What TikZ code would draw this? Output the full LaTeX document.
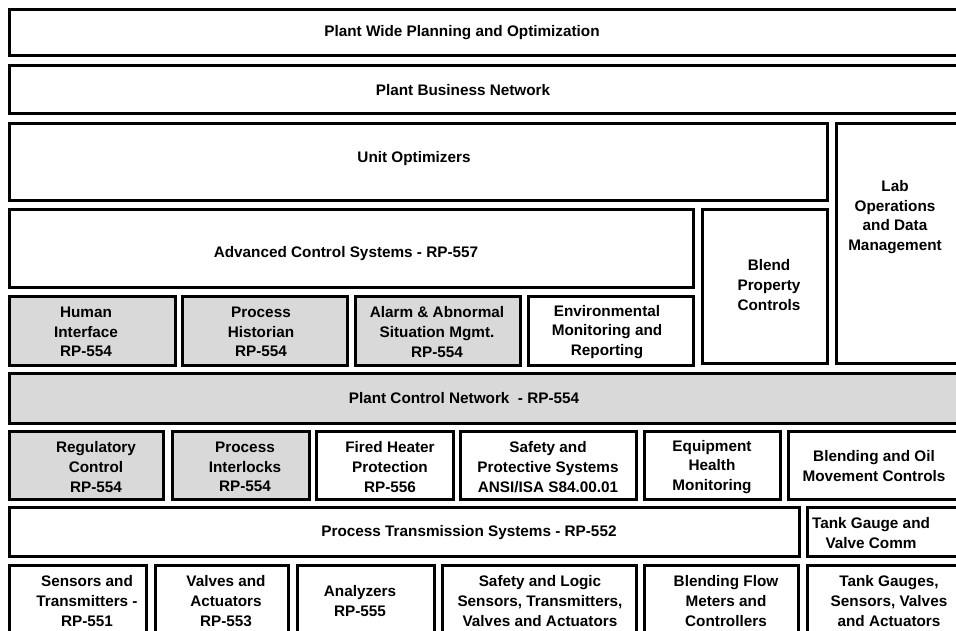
\documentclass[tikz,border=0pt]{standalone}
\usepackage{fontspec}
\setmainfont{Liberation Sans}
\definecolor{boxgray}{RGB}{217,217,217}
\begin{document}
\begin{tikzpicture}[x=1pt,y=-1pt,
  box/.style={draw=black,line width=3pt,fill=white},
  gbox/.style={draw=black,line width=3pt,fill=boxgray},
  lbl/.style={align=center,inner sep=0pt,font=\bfseries\fontsize{15.3}{19.7}\selectfont}]
\useasboundingbox (0,0) rectangle (956,631);
\clip (0,0) rectangle (956,631);
\fill[white] (0,0) rectangle (956,631);
% row 1-3
\draw[box] (9,10) rectangle (975,56);
\draw[box] (9,66) rectangle (975,114);
\draw[box] (9,124) rectangle (827,201);
\draw[box] (836,124) rectangle (975,363);
% row 4
\draw[box] (9,210) rectangle (693,287);
\draw[box] (702,210) rectangle (827,363);
% row 5
\draw[gbox] (9,296) rectangle (175,365);
\draw[gbox] (182,296) rectangle (347,365);
\draw[gbox] (355,296) rectangle (520,365);
\draw[box] (528,296) rectangle (693,365);
% row 6
\draw[gbox] (9,373) rectangle (975,423);
% row 7
\draw[gbox] (9,431) rectangle (163,499);
\draw[gbox] (172,431) rectangle (309,499);
\draw[box] (316,431) rectangle (453,499);
\draw[box] (460,431) rectangle (636,499);
\draw[box] (644,431) rectangle (780,499);
\draw[box] (788,431) rectangle (975,499);
% row 8
\draw[box] (9,507) rectangle (799,556);
\draw[box] (807,507) rectangle (975,556);
% row 9
\draw[box] (9,565) rectangle (146,650);
\draw[box] (155,565) rectangle (288,650);
\draw[box] (297,565) rectangle (434,650);
\draw[box] (442,565) rectangle (636,650);
\draw[box] (644,565) rectangle (798,650);
\draw[box] (807,565) rectangle (975,650);
% labels
\node[lbl] (pwp) at (462,33) {Plant Wide Planning and Optimization};
\node[lbl] (pbn) at (463,90) {Plant Business Network};
\node[lbl] (uo) at (414,159) {Unit Optimizers};
\node[lbl] (lab) at (895,217) {Lab\\Operations\\and Data\\Management};
\node[lbl] (acs) at (346,254) {Advanced Control Systems - RP-557};
\node[lbl] (bpc) at (769,285) {Blend\\Property\\Controls};
\node[lbl] (hi) at (86,332) {Human\\Interface\\RP-554};
\node[lbl] (ph) at (261,332) {Process\\Historian\\RP-554};
\node[lbl] (al) at (437,332) {Alarm \& Abnormal\\Situation Mgmt.\\RP-554};
\node[lbl] (env) at (607,332) {Environmental\\Monitoring and\\Reporting};
\node[lbl] (pcn) at (464,398) {Plant Control Network\ \ - RP-554};
\node[lbl] (rc) at (96,467) {Regulatory\\Control\\RP-554};
\node[lbl] (pi) at (245,467) {Process\\Interlocks\\RP-554};
\node[lbl] (fh) at (390,467) {Fired Heater\\Protection\\RP-556};
\node[lbl] (sps) at (548,467) {Safety and\\Protective Systems\\ANSI/ISA S84.00.01};
\node[lbl] (ehm) at (712,467) {Equipment\\Health\\Monitoring};
\node[lbl] (bom) at (874,466) {Blending and Oil\\Movement Controls};
\node[lbl] (pts) at (469,533) {Process Transmission Systems - RP-552};
\node[lbl] (tgv) at (871,533) {Tank Gauge and\\Valve Comm};
\node[lbl] (st) at (87,601) {Sensors and\\Transmitters -\\RP-551};
\node[lbl] (va) at (226,601) {Valves and\\Actuators\\RP-553};
\node[lbl] (an) at (360,601) {Analyzers\\RP-555};
\node[lbl] (slv) at (540,601) {Safety and Logic\\Sensors, Transmitters,\\Valves and Actuators};
\node[lbl] (bfm) at (726,601) {Blending Flow\\Meters and\\Controllers};
\node[lbl] (tgs) at (889,601) {Tank Gauges,\\Sensors, Valves\\and Actuators};
\end{tikzpicture}
\end{document}
